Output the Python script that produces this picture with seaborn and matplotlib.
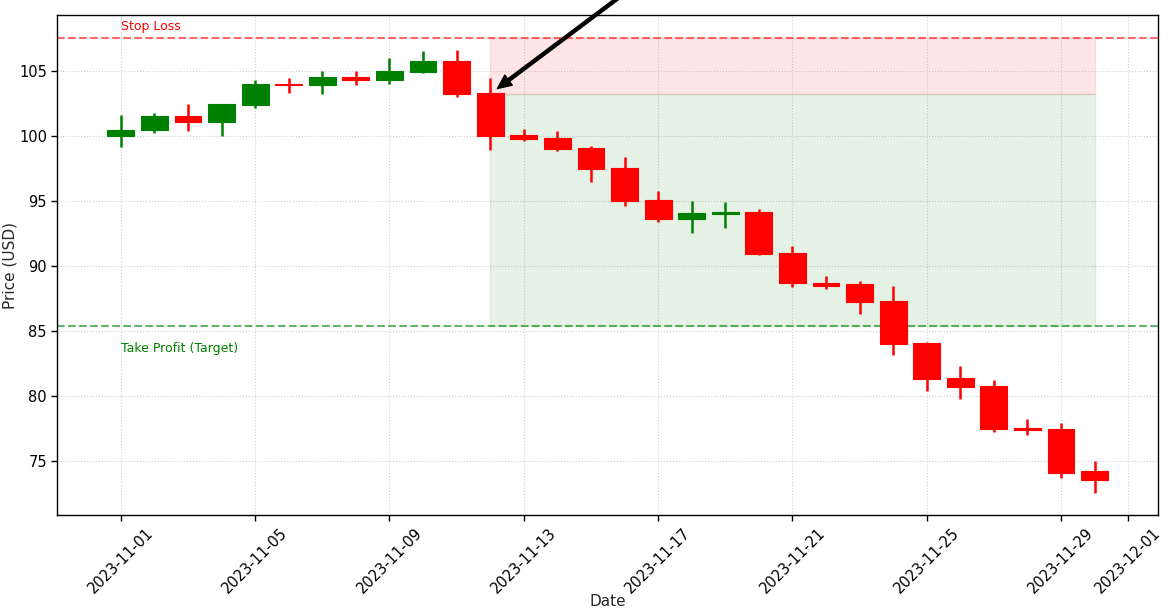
import numpy as np
import pandas as pd
import matplotlib
matplotlib.use("Agg")
import matplotlib.pyplot as plt
import matplotlib.dates as mdates
import seaborn as sns

# ---- data ----
dates = pd.date_range("2023-11-01", "2023-11-30", freq="D")
opens = [100.0, 100.4, 101.5, 101.05, 102.33, 104.0, 103.9, 104.5, 104.25, 104.9,
         105.77, 103.25, 100.05, 99.8, 99.05, 97.5, 95.05, 93.56, 93.95, 94.12,
         90.95, 88.7, 88.58, 87.25, 84.02, 81.33, 80.72, 77.56, 77.43, 74.2]
closes = [100.46, 101.5, 101.05, 102.4, 103.95, 103.85, 104.5, 104.25, 104.95, 105.77,
          103.18, 99.95, 99.74, 98.95, 97.4, 94.95, 93.56, 94.05, 94.12, 90.87,
          88.64, 88.46, 87.18, 83.97, 81.25, 80.66, 77.43, 77.33, 74.1, 73.56]
highs = [101.6, 101.7, 102.46, 102.46, 104.25, 104.4, 104.95, 104.95, 105.95, 106.5,
         106.56, 104.4, 100.48, 100.33, 99.18, 98.33, 95.72, 94.95, 94.87, 94.38,
         91.48, 89.2, 88.8, 88.4, 84.17, 82.25, 81.18, 78.25, 77.87, 75.0]
lows = [99.12, 100.2, 100.35, 99.95, 102.1, 103.3, 103.2, 103.87, 104.0, 104.8,
        102.95, 98.87, 99.6, 98.8, 96.43, 94.56, 93.35, 92.5, 92.9, 90.79,
        88.35, 88.18, 86.25, 83.1, 80.35, 79.72, 77.25, 76.95, 73.7, 72.56]

entry_price = 103.2
stop_loss = 107.5
take_profit = 85.35
entry_idx = 11  # 2023-11-12

# ---- style ----
sns.set_style("ticks")
plt.rcParams["font.family"] = ["DejaVu Sans"]
plt.rcParams["axes.edgecolor"] = "black"
plt.rcParams["xtick.color"] = "black"
plt.rcParams["ytick.color"] = "black"

fig = plt.figure(figsize=(11.74, 6.09), dpi=100)
ax = fig.add_axes([0.0489, 0.1539, 0.9375, 0.821])

up = [c >= o for o, c in zip(opens, closes)]
colors = ["green" if u else "red" for u in up]
bottoms = [min(o, c) for o, c in zip(opens, closes)]
heights = [abs(c - o) for o, c in zip(opens, closes)]

df = pd.DataFrame({"date": dates, "open": opens, "close": closes,
                   "high": highs, "low": lows, "color": colors,
                   "bottom": bottoms, "height": heights})

# wicks
ax.vlines(df["date"], df["low"], df["high"], colors=df["color"], linewidth=1.8, zorder=2)
# bodies
ax.bar(df["date"], df["height"], bottom=df["bottom"], width=0.8,
       color=df["color"], edgecolor=df["color"], linewidth=0.8, zorder=3)

# risk / reward zones
zone_x = [dates[entry_idx], dates[-1]]
ax.fill_between(zone_x, entry_price, stop_loss, color="red", alpha=0.1, zorder=1)
ax.fill_between(zone_x, take_profit, entry_price, color="green", alpha=0.1, zorder=1)

ax.axhline(stop_loss, color="red", linestyle="--", linewidth=1.5, alpha=0.6, zorder=1.5)
ax.axhline(take_profit, color="green", linestyle="--", linewidth=1.5, alpha=0.6, zorder=1.5)

ax.text(dates[0], stop_loss + 0.35, "Stop Loss", color="red", fontsize=9, va="bottom")
ax.text(dates[0], take_profit - 1.2, "Take Profit (Target)", color="green", fontsize=9, va="top")

# entry arrow (its label lies outside the visible area in the reference)
ax.annotate("", xy=(dates[entry_idx], entry_price),
            xytext=(104, 78), textcoords="offset points",
            annotation_clip=False,
            arrowprops=dict(facecolor="black", edgecolor="black", shrink=0.05,
                            width=2.2, headwidth=9, headlength=10))

ax.grid(True, linestyle=":", color="#bbbbbb", alpha=0.7, linewidth=0.8)
ax.set_axisbelow(True)

ax.xaxis.set_major_locator(mdates.DayLocator(bymonthday=[1, 5, 9, 13, 17, 21, 25, 29]))
ax.xaxis.set_major_formatter(mdates.DateFormatter("%Y-%m-%d"))
plt.setp(ax.get_xticklabels(), rotation=45)
ax.tick_params(axis="both", labelsize=10.5, length=4, width=1)

ax.set_xlabel("Date", fontsize=11, va="top")
ax.xaxis.set_label_coords(0.5, -0.158)
ax.set_ylabel("Price (USD)", fontsize=11, labelpad=1)
for s in ax.spines.values():
    s.set_visible(True)
    s.set_color("black")
    s.set_linewidth(1.0)

fig.savefig("out.png", dpi=100)
